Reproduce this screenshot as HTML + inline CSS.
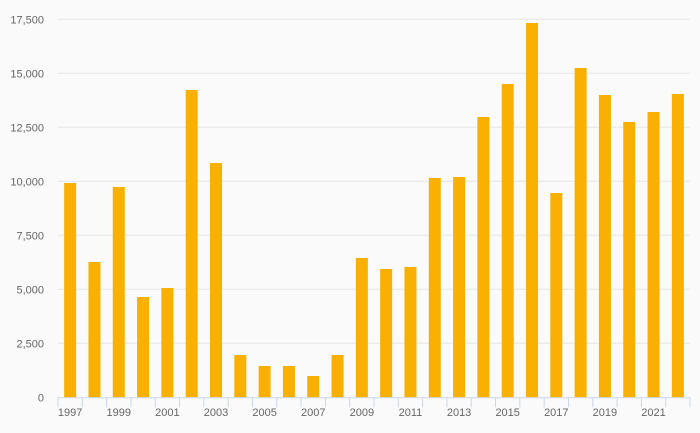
<!DOCTYPE html>
<html><head><meta charset="utf-8"><style>
html,body{margin:0;padding:0;background:#fafafa;}
svg{display:block;font-family:"Liberation Sans",sans-serif;}
</style></head><body>
<svg id="chart" width="700" height="433" viewBox="0 0 700 433">
<rect width="700" height="433" fill="#fafafa"/>
<g id="grid"></g><g id="bars"></g><g id="axis"></g>
</svg>
<script>
const years = [1997,1998,1999,2000,2001,2002,2003,2004,2005,2006,2007,2008,2009,2010,2011,2012,2013,2014,2015,2016,2017,2018,2019,2020,2021,2022];
const values = [9921,6264,9736,4644,5060,14227,10847,1958,1450,1450,986,1958,6449,5940,6032,10153,10199,12977,14505,17329,9458,15245,13995,12745,13208,14042];
const yTicks = [0,2500,5000,7500,10000,12500,15000,17500];
const NS='http://www.w3.org/2000/svg';
const L=58,R=690,T=19.3,B=397.3,yMax=17500;
const y=v=>B-(v/yMax)*(B-T);
const bw=(R-L)/years.length;
const x=i=>L+i*bw;
function mk(tag,attrs,parent){const e=document.createElementNS(NS,tag);for(const k in attrs)e.setAttribute(k,attrs[k]);parent.appendChild(e);return e;}
const grid=document.getElementById('grid'),bars=document.getElementById('bars'),axis=document.getElementById('axis');
yTicks.forEach(t=>{
  if(t>0){const g=mk('line',{x1:L,x2:R,y1:y(t),y2:y(t),stroke:'#e6e6e6','stroke-width':1},grid);
  
  }
  const lb=mk('text',{x:44,y:y(t)+4,'text-anchor':'end','font-size':11,fill:'#666'},axis);
  lb.textContent=t.toLocaleString('en-US');
  
  
});
values.forEach((v,i)=>{
  const r=mk('rect',{x:x(i)+bw/2-6,y:y(v),width:12,height:B-y(v),fill:'#f9b000'},bars);
  
  
});
const ax=mk('line',{x1:L,x2:R,y1:B+0.5,y2:B+0.5,stroke:'#ccd6eb','stroke-width':1},axis);


for(let i=0;i<=years.length;i++){
  const tk=mk('line',{x1:x(i),x2:x(i),y1:B,y2:B+10,stroke:'#ccd6eb','stroke-width':1},axis);
  
  
}
years.forEach((yr,i)=>{
  if(i%2!==0)return;
  const t=mk('text',{x:x(i)+bw/2,y:416,'text-anchor':'middle','font-size':11,fill:'#666'},axis);
  t.textContent=yr;
  
  
});
</script>
</body></html>
